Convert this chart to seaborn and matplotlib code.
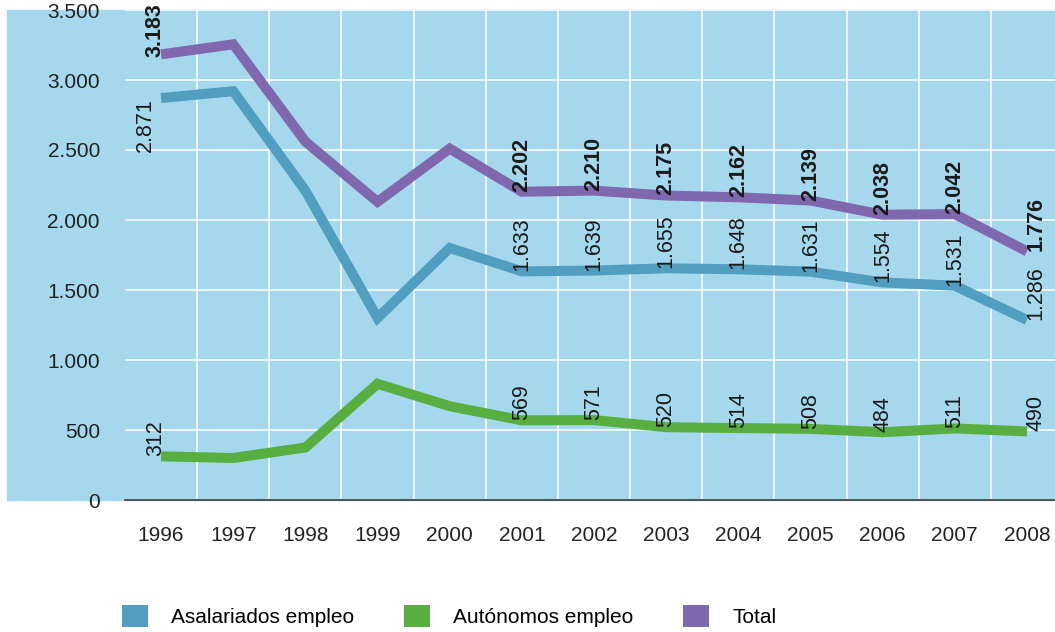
import numpy as np
import pandas as pd
import matplotlib
matplotlib.use("Agg")
import matplotlib.pyplot as plt
import seaborn as sns
from matplotlib.patches import Rectangle, Patch
from matplotlib.ticker import FuncFormatter, MultipleLocator, FixedLocator

years = [str(y) for y in range(1996, 2009)]
asalariados = [2871, 2920, 2210, 1300, 1800, 1633, 1639, 1655, 1648, 1631, 1554, 1531, 1286]
autonomos = [312, 300, 375, 830, 670, 569, 571, 520, 514, 508, 484, 511, 490]
total = [3183, 3255, 2560, 2130, 2510, 2202, 2210, 2175, 2162, 2139, 2038, 2042, 1776]
series_names = ["Asalariados empleo", "Autónomos empleo", "Total"]
colors = ["#519ec0", "#58ae40", "#8068ae"]
bg = "#a5d8ec"

# which points carry a value label
labelled = [0, 5, 6, 7, 8, 9, 10, 11, 12]

def fmt(v):
    return f"{v:,}".replace(",", ".")

df = pd.DataFrame({
    "year": years * 3,
    "x": list(range(len(years))) * 3,
    "value": asalariados + autonomos + total,
    "serie": [s for s in series_names for _ in years],
})

plt.rcParams["font.family"] = ["Liberation Sans", "DejaVu Sans"]
W, H = 1055, 632
fig = plt.figure(figsize=(W / 100, H / 100), dpi=100)
fig.patches.append(Rectangle((7 / W, (H - 500) / H), 1, 490 / H,
                             transform=fig.transFigure, color=bg, zorder=-5))
ax = fig.add_axes([125 / W, (H - 500) / H, 938 / W, 490 / H])
ax.set_zorder(1)
ax.set_facecolor(bg)

sns.lineplot(data=df, x="x", y="value", hue="serie", palette=colors, sort=False,
             linewidth=7.2, legend=False, ax=ax, zorder=3)
for ln in ax.get_lines():
    ln.set_solid_joinstyle("miter")
    ln.set_solid_capstyle("butt")

ax.set_xlim(-0.5, 12.5)
ax.set_ylim(0, 3500)
ax.xaxis.set_major_locator(FixedLocator(range(len(years))))
ax.set_xticklabels(years)
ax.xaxis.set_minor_locator(FixedLocator(np.arange(0.5, 12.5, 1)))
ax.yaxis.set_major_locator(MultipleLocator(500))
ax.yaxis.set_major_formatter(FuncFormatter(lambda v, p: fmt(int(v))))
ax.grid(False)
ax.grid(True, which="minor", axis="x", color="white", linewidth=1.1)
ax.grid(True, which="major", axis="y", color="white", linewidth=1.1)
ax.set_axisbelow(True)
ax.tick_params(axis="both", which="both", length=0, labelsize=15, colors="#222222")
ax.tick_params(axis="y", pad=18)
ax.tick_params(axis="x", pad=19)
for s in ["top", "right", "left"]:
    ax.spines[s].set_visible(False)
ax.spines["bottom"].set_color("#3a3a3a")
ax.spines["bottom"].set_linewidth(1.2)
ax.spines["bottom"].set_zorder(4)
ax.set_xlabel("")
ax.set_ylabel("")

# value labels (rotated)
for vals, bold in [(asalariados, False), (autonomos, False), (total, True)]:
    for i in labelled:
        dx, va, dy = 0, "bottom", 0
        if i == 0:
            dx = -4
            if vals is total:
                dy = -2
        if i == 12:
            dx = 6.5
        if vals is asalariados and i == 0:
            dx, va, dy = -11, "top", 0
        ax.annotate(fmt(vals[i]), (i, vals[i]), xytext=(dx, dy), textcoords="offset points",
                    rotation=90, ha="center", va=va, fontsize=15.5,
                    fontweight="bold" if bold else "normal", color="#1a1a1a", zorder=5,
                    annotation_clip=False)

handles = [Patch(facecolor=c, edgecolor="none") for c in colors]
fig.legend(handles, series_names, loc="center left", bbox_to_anchor=(122 / W, 16 / H),
           ncol=3, frameon=False, fontsize=15, handlelength=1.25, handleheight=1.25,
           handletextpad=1.1, columnspacing=2.4, borderpad=0, borderaxespad=0)

fig.savefig("out.png", dpi=100)
